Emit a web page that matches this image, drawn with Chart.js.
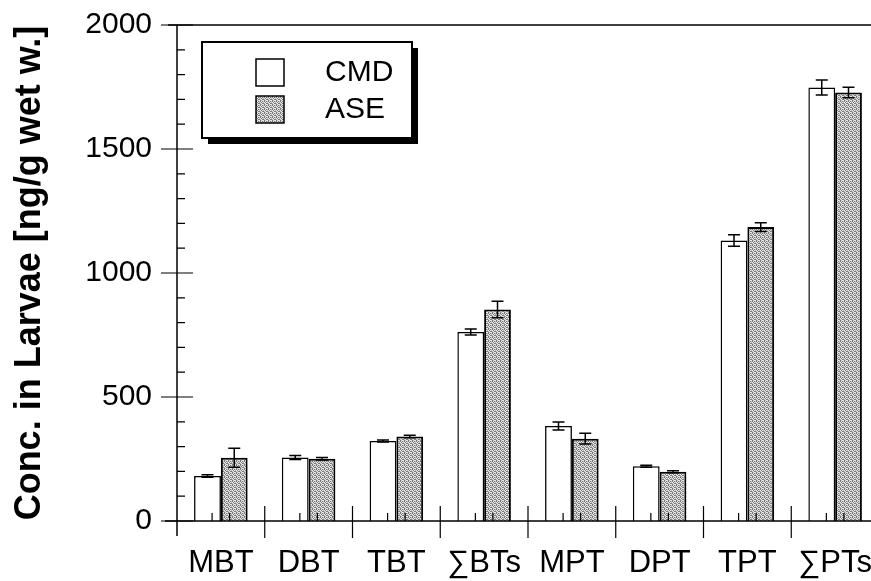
<!DOCTYPE html>
<html>
<head>
<meta charset="utf-8">
<script src="https://cdn.jsdelivr.net/npm/chart.js@4.4.1/dist/chart.umd.min.js"></script>
<style>
  html, body { margin: 0; padding: 0; background: #fff; overflow: hidden; }
  #wrap { width: 880px; height: 581px; }
</style>
</head>
<body>
<div id="wrap"><canvas id="chart" width="880" height="581"></canvas></div>
<script>
const compounds = ['MBT', 'DBT', 'TBT', '\u2211BTs', 'MPT', 'DPT', 'TPT', '\u2211PTs'];
const cmdValues = [181, 256, 323, 762, 383, 221, 1131, 1748];
const cmdErrors = [5, 8, 4, 12, 16, 4, 23, 30];
const aseValues = [255, 251, 341, 853, 332, 199, 1185, 1728];
const aseErrors = [38, 5, 5, 33, 22, 4, 18, 21];
const yMax = 2000;
const yStep = 500;
const yMinorStep = 100;

const sans = '"Liberation Sans", Arial, Helvetica, sans-serif';

// grey stipple for the ASE bars
function stipple() {
  const tile = document.createElement('canvas');
  tile.width = 4; tile.height = 4;
  const c = tile.getContext('2d');
  c.fillStyle = '#e8e8e8';
  c.fillRect(0, 0, 4, 4);
  c.fillStyle = '#7a7a7a';
  [[0, 0], [2, 1], [1, 2], [3, 3], [2, 3], [0, 1]].forEach(([px, py]) => c.fillRect(px, py, 1, 1));
  c.fillStyle = '#bdbdbd';
  [[1, 0], [3, 1], [0, 3], [3, 2]].forEach(([px, py]) => c.fillRect(px, py, 1, 1));
  return document.createElement('canvas').getContext('2d').createPattern(tile, 'repeat');
}

// axes, ticks, separators and error bars
const frame = {
  id: 'frame',
  afterDatasetsDraw(chart) {
    const { ctx, chartArea: a, scales: { x, y } } = chart;
    const base = y.getPixelForValue(0);
    const top = y.getPixelForValue(yMax);
    ctx.save();
    ctx.strokeStyle = '#000';
    ctx.lineCap = 'butt';

    ctx.lineWidth = 1.5;
    chart.data.datasets.forEach((ds, i) => {
      chart.getDatasetMeta(i).data.forEach((bar, j) => {
        const hi = y.getPixelForValue(ds.data[j] + ds.errors[j]);
        const lo = y.getPixelForValue(ds.data[j] - ds.errors[j]);
        ctx.beginPath();
        ctx.moveTo(bar.x, hi); ctx.lineTo(bar.x, lo);
        ctx.moveTo(bar.x - 6, hi); ctx.lineTo(bar.x + 6, hi);
        ctx.moveTo(bar.x - 6, lo); ctx.lineTo(bar.x + 6, lo);
        ctx.stroke();
      });
    });

    // frame lines
    ctx.lineWidth = 1.5;
    ctx.beginPath();
    ctx.moveTo(a.left, top); ctx.lineTo(a.left, base + 15);
    ctx.moveTo(a.left - 12, base); ctx.lineTo(a.right, base);
    ctx.moveTo(a.left - 9, top); ctx.lineTo(a.right, top);
    ctx.stroke();

    // y ticks
    ctx.lineWidth = 1.2;
    ctx.beginPath();
    for (let v = 0; v <= yMax; v += yMinorStep) {
      const py = y.getPixelForValue(v);
      if (v % yStep === 0) {
        ctx.moveTo(a.left - 16, py); ctx.lineTo(a.left + 16, py);
      } else {
        ctx.moveTo(a.left, py); ctx.lineTo(a.left + 8, py);
      }
    }
    ctx.stroke();

    // category separators and small inner ticks
    const cw = x.getPixelForValue(1) - x.getPixelForValue(0);
    ctx.beginPath();
    compounds.forEach((c, i) => {
      const cx = x.getPixelForValue(i);
      if (i > 0) {
        ctx.moveTo(cx - cw / 2, base - 15); ctx.lineTo(cx - cw / 2, base + 17);
      }
      ctx.moveTo(cx - cw * 0.1, base); ctx.lineTo(cx - cw * 0.1, base - 8);
      ctx.moveTo(cx + cw * 0.1, base); ctx.lineTo(cx + cw * 0.1, base - 8);
    });
    ctx.stroke();
    ctx.restore();
  }
};

// boxed legend with drop shadow
const boxLegend = {
  id: 'boxLegend',
  afterDraw(chart) {
    const ctx = chart.ctx;
    const bx = 202, by = 42, bw = 210, bh = 96;
    ctx.save();
    ctx.fillStyle = '#000';
    ctx.fillRect(bx + 6, by + 6, bw, bh);
    ctx.fillStyle = '#fff';
    ctx.fillRect(bx, by, bw, bh);
    ctx.lineWidth = 2;
    ctx.strokeStyle = '#000';
    ctx.strokeRect(bx, by, bw, bh);
    chart.data.datasets.forEach((ds, i) => {
      const sy = 59 + i * 37;
      ctx.fillStyle = ds.backgroundColor;
      ctx.fillRect(256, sy, 28, 27);
      ctx.lineWidth = 1.5;
      ctx.strokeRect(256, sy, 28, 27);
      ctx.fillStyle = '#000';
      ctx.font = '30px ' + sans;
      ctx.textBaseline = 'middle';
      ctx.fillText(ds.label, 325, sy + 14);
    });
    ctx.restore();
  }
};

new Chart(document.getElementById('chart'), {
  type: 'bar',
  data: {
    labels: compounds,
    datasets: [
      { label: 'CMD', data: cmdValues, errors: cmdErrors, backgroundColor: '#fff', borderColor: '#000', borderWidth: 1.5 },
      { label: 'ASE', data: aseValues, errors: aseErrors, backgroundColor: stipple(), borderColor: '#000', borderWidth: 2 }
    ]
  },
  options: {
    responsive: false,
    animation: false,
    devicePixelRatio: 1,
    layout: { padding: { top: 25, right: 1, bottom: 0, left: 0 } },
    plugins: { legend: { display: false }, tooltip: { enabled: false } },
    datasets: { bar: { categoryPercentage: 0.61, barPercentage: 1 } },
    scales: {
      x: {
        grid: { display: false, drawTicks: false },
        border: { display: false },
        ticks: { color: '#000', font: { family: sans, size: 31 }, padding: 24, maxRotation: 0, autoSkip: false },
        afterFit(s) { s.height = 60; s.paddingLeft = 0; s.paddingRight = 0; }
      },
      y: {
        min: 0,
        max: yMax,
        grid: { display: false, drawTicks: false },
        border: { display: false },
        ticks: {
          stepSize: yStep,
          color: '#000',
          font: { family: sans, size: 30 },
          padding: 25,
          callback: (v) => String(v)
        },
        title: {
          display: true,
          text: 'Conc. in Larvae [ng/g wet w.]',
          color: '#000',
          font: { family: sans, size: 36, weight: 'bold' },
          padding: { top: 8, bottom: 0 }
        },
        afterFit(s) { s.width = 177; s.paddingTop = 0; s.paddingBottom = 0; }
      }
    }
  },
  plugins: [frame, boxLegend]
});
</script>
</body>
</html>
